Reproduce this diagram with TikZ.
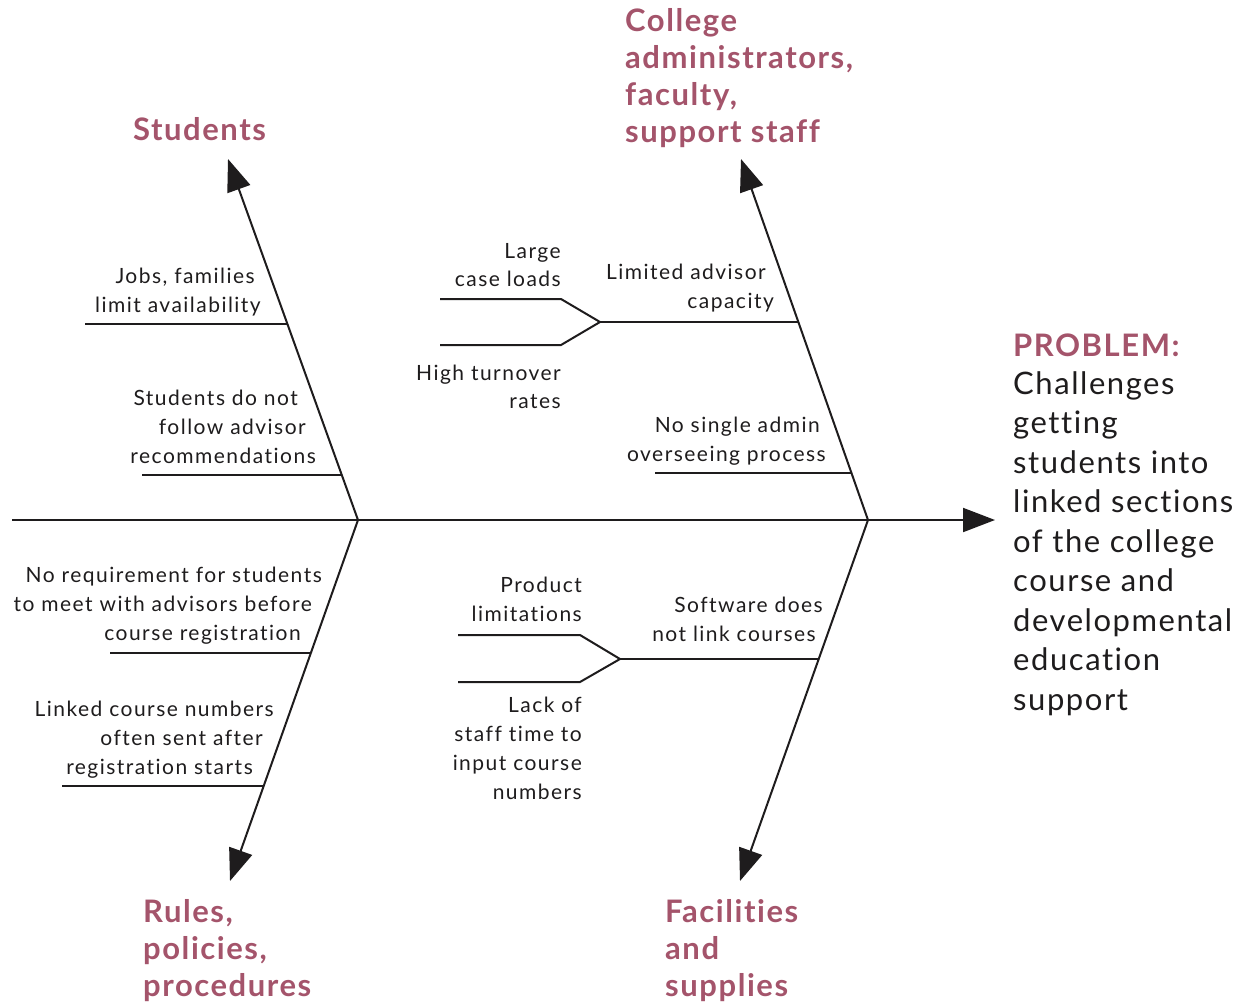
\documentclass[tikz,border=0pt]{standalone}
\usepackage{fontspec}
\setmainfont[Ligatures=NoCommon]{Lato}
\newfontfamily\lblfamily[LetterSpace=7,Ligatures=NoCommon]{Lato}
\newfontfamily\headfamily[LetterSpace=5,Ligatures=NoCommon]{Lato}
\newfontfamily\probfamily[LetterSpace=5,Ligatures=NoCommon]{Lato}
\usetikzlibrary{arrows.meta}
\definecolor{headc}{RGB}{164,84,107}
\definecolor{ink}{RGB}{30,28,29}
\tikzset{
  bone/.style={line width=2pt, draw=ink},
  arr/.style={bone, -{Triangle[length=32pt,width=24pt]}},
  lbl/.style={font=\lblfamily\fontsize{21}{29}\selectfont, text=ink, inner sep=0pt, anchor=base east},
  head/.style={font=\headfamily\fontsize{31}{37}\selectfont\bfseries, text=headc, inner sep=0pt, anchor=base west},
  prob/.style={font=\probfamily\fontsize{31}{39.5}\selectfont, text=ink, inner sep=0pt, anchor=base west},
}
% #1 name prefix, #2 first baseline, #3 line spacing, #4 list text/xright
\newcommand\lblLines[4]{%
  \foreach \t/\xr [count=\i] in {#4} {%
    \node[lbl] (#1\i) at ({\xr},{#2+#3*(\i-1)}) {\t};
  }%
}
\begin{document}
\begin{tikzpicture}[x=1pt,y=-1pt]
\useasboundingbox (0,0) rectangle (1249,1002);
% spine
\coordinate (tail) at (12,520);
\coordinate (head) at (995,520);
\coordinate (jL) at (358,520);
\coordinate (jR) at (868,520);
\coordinate (tUL) at (228,159);
\coordinate (tUR) at (741,159);
\coordinate (tLL) at (230,881);
\coordinate (tLR) at (740,881);
\draw[arr] (tail) -- (head);
\draw[arr] (jL) -- (tUL);
\draw[arr] (jR) -- (tUR);
\draw[arr] (jL) -- (tLL);
\draw[arr] (jR) -- (tLR);
% sub-branches (horizontal)
\coordinate (a1) at (85,324);  \coordinate (a2) at (287,324);
\coordinate (b1) at (142,475); \coordinate (b2) at (342,475);
\coordinate (c1) at (600,322); \coordinate (c2) at (798,322);
\coordinate (c3) at (561,299); \coordinate (c4) at (440,299);
\coordinate (c5) at (561,345); \coordinate (c6) at (440,345);
\coordinate (d1) at (655,473); \coordinate (d2) at (851,473);
\coordinate (e1) at (110,653); \coordinate (e2) at (311,653);
\coordinate (f1) at (62,786);  \coordinate (f2) at (264,786);
\coordinate (g1) at (620,659); \coordinate (g2) at (819,659);
\coordinate (g3) at (580,635); \coordinate (g4) at (458,635);
\coordinate (g5) at (580,682); \coordinate (g6) at (458,682);
\draw[bone] (a1) -- (a2);
\draw[bone] (b1) -- (b2);
\draw[bone] (c1) -- (c2);
\draw[bone] (c4) -- (c3) -- (c1) -- (c5) -- (c6);
\draw[bone] (d1) -- (d2);
\draw[bone] (e1) -- (e2);
\draw[bone] (f1) -- (f2);
\draw[bone] (g1) -- (g2);
\draw[bone] (g4) -- (g3) -- (g1) -- (g5) -- (g6);
% labels
\lblLines{jobs}{283}{29}{{Jobs, families}/255, {limit availability}/261}
\lblLines{sdn}{405}{29}{{Students do not}/298, {follow advisor}/306, {recommendations}/316}
\lblLines{large}{258}{28}{{Large}/561, {case loads}/561}
\lblLines{high}{380}{28}{{High turnover}/561, {rates}/561}
\lblLines{lim}{279}{29}{{Limited advisor}/766, {capacity}/774}
\lblLines{nsa}{432}{29}{{No single admin}/820, {overseeing process}/826}
\lblLines{nreq}{582}{29}{{No requirement for students}/322, {to meet with advisors before}/312, {course registration}/301}
\lblLines{lcn}{716}{29}{{Linked course numbers}/274, {often sent after}/263, {registration starts}/253}
\lblLines{prod}{592}{29}{{Product}/582, {limitations}/582}
\lblLines{soft}{612}{29}{{Software does}/823, {not link courses}/816}
\lblLines{lack}{712}{29}{{Lack of}/582, {staff time to}/582, {input course}/582, {numbers}/582}
% headings
\node[head] (hStud) at (133,140) {Students};
\node[head, align=left, anchor=north west] (hColl) at (625,8) {College\\administrators,\\faculty,\\support staff};
\node[head, align=left, anchor=north west] (hRules) at (143,899) {Rules,\\policies,\\procedures};
\node[head, align=left, anchor=north west] (hFac) at (665,899) {Facilities\\and\\supplies};
% problem
\node[head] (pHead) at (1013,356) {PROBLEM:};
\node[prob, align=left, anchor=north west] (pText) at (1013,371) {Challenges\\getting\\students into\\linked sections\\of the college\\course and\\developmental\\education\\support};
\end{tikzpicture}
\end{document}
